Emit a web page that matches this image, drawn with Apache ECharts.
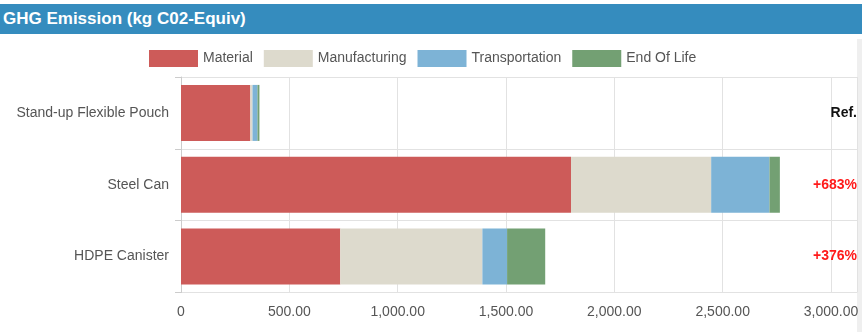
<!DOCTYPE html>
<html>
<head>
<meta charset="utf-8">
<script src="https://cdn.jsdelivr.net/npm/echarts@6/dist/echarts.min.js"></script>
<style>
  html, body { margin: 0; padding: 0; background: #fff; }
  #wrap { position: relative; width: 867px; height: 332px; overflow: hidden; }
  #bar { position: absolute; left: 0; top: 4px; width: 862px; height: 30px; background: #358cbe;
         color: #fff; font: bold 17px "Liberation Sans", Arial, sans-serif; line-height: 30px; padding-left: 3px; box-sizing: border-box; }
  #edge { position: absolute; left: 857px; top: 39px; width: 5px; height: 293px; background: #efefef; }
  #chart { position: absolute; left: 0; top: 0; width: 867px; height: 332px; }
</style>
</head>
<body>
<div id="wrap">
  <div id="bar">GHG Emission (kg C02-Equiv)</div>
  <div id="edge"></div>
  <div id="chart"></div>
</div>
<script>
const categories = ['Stand-up Flexible Pouch', 'Steel Can', 'HDPE Canister'];
const material = [320, 1800, 735];
const manufacturing = [10, 647, 656];
const transportation = [23, 269, 114];
const endOfLife = [9, 48, 176];
const changeLabels = ['Ref.', '+683%', '+376%'];
const changeColors = ['#111111', '#ff1a1a', '#ff1a1a'];
const seriesNames = ['Material', 'Manufacturing', 'Transportation', 'End Of Life'];
const seriesColors = ['#cd5b59', '#dddacd', '#7db3d6', '#73a073'];

const FONT = '"Liberation Sans", Arial, sans-serif';
const chart = echarts.init(document.getElementById('chart'), null, { renderer: 'canvas' });
const values = [material, manufacturing, transportation, endOfLife];

chart.setOption({
  animation: false,
  textStyle: { fontFamily: FONT },
  legend: {
    left: 144, top: 45,
    itemWidth: 49, itemHeight: 17, itemGap: 11,
    icon: 'rect',
    textStyle: { color: '#555', fontSize: 14, fontFamily: FONT },
    data: seriesNames
  },
  grid: { left: 181, right: 10, top: 77, bottom: 39.5, containLabel: false },
  xAxis: {
    type: 'value', min: 0, max: 3120, interval: 500,
    axisLine: { show: false },
    axisTick: { show: false },
    splitLine: { show: true, lineStyle: { color: '#e2e2e2', width: 1 } },
    axisLabel: {
      showMaxLabel: false,
      color: '#555', fontSize: 14, fontFamily: FONT, margin: 13,
      formatter: v => v === 0 ? '0' : v.toLocaleString('en-US', { minimumFractionDigits: 2, maximumFractionDigits: 2 })
    }
  },
  yAxis: [{
    type: 'category', inverse: true, data: categories,
    axisLine: { show: true, lineStyle: { color: '#cccccc' } },
    axisTick: { show: true, length: 6, lineStyle: { color: '#cccccc' } },
    splitLine: { show: true, lineStyle: { color: '#e2e2e2' } },
    axisLabel: { color: '#555', fontSize: 14, fontFamily: FONT, margin: 12 }
  }, {
    type: 'category', inverse: true, position: 'right',
    data: changeLabels.map((t, i) => ({ value: t, textStyle: { color: changeColors[i] } })),
    axisLine: { show: false }, axisTick: { show: false }, splitLine: { show: false },
    axisLabel: { inside: true, margin: 0, fontWeight: 'bold', fontSize: 14, fontFamily: FONT }
  }],
  series: seriesNames.map((name, i) => ({
    name, type: 'bar', stack: 'total', yAxisIndex: 0,
    barWidth: 56,
    itemStyle: { color: seriesColors[i] },
    data: values[i]
  }))
});
</script>
</body>
</html>
